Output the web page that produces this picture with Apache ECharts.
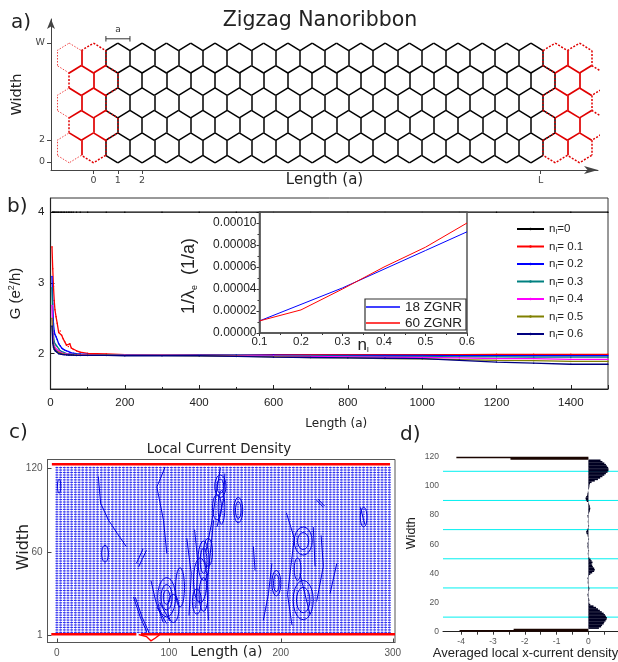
<!DOCTYPE html>
<html><head><meta charset="utf-8">
<style>html,body{margin:0;padding:0;background:#fff}#c{width:618px;height:662px}</style>
<script src="https://cdn.jsdelivr.net/npm/echarts@6/dist/echarts.min.js"></script></head>
<body><div id="c"></div>
<script>
// ---------- panel a data ----------
const ribbonRowCenters=[1.29,3.33,5.37,7.41,9.45];
const ribbonRowOffsets=[0,0.5,0,0.5,0];
const ribbonColumnCount=22, ribbonFirstColumn=-1;
const hexHalfWidth=0.5, hexRadius=1.36;
const leftLeadEnd=0.6, rightLeadStart=18.6;
const aTickValues=[0,1,2,18.4], aTickLabels=['0','1','2','L'];
const wTickValues=[0,2,10.82], wTickLabels=['0','2','W'];
const latticeMarkers=[[[0.51,11.2],[1.5,11.2]],[[0.51,10.95],[0.51,11.45]],[[1.5,10.95],[1.5,11.45]]];
// ---------- panel b data ----------
const lengths=[4,6,8,10,12,15,18,22,26,30,34,38,43,48,52,56,61,70,80,100,150,200,300,400,500,600,700,800,900,1000,1100,1200,1300,1400,1500];
const g0=lengths.map(()=>4);
const g1=[3.51,3.2,2.95,2.75,2.62,2.52,2.43,2.3,2.32,2.26,2.21,2.17,2.12,2.1,2.14,2.08,2.06,2.04,2.02,2.005,1.995,1.985,1.98,1.985,1.98,1.985,1.985,1.985,1.985,1.985,1.985,1.99,1.99,1.99,1.99];
const g2=[3.09,2.7,2.42,2.32,2.27,2.24,2.2,2.14,2.11,2.08,2.06,2.05,2.04,2.03,2.02,2.01,2.005,2.0,1.995,1.99,1.985,1.985,1.98,1.98,1.98,1.98,1.975,1.975,1.975,1.975,1.97,1.97,1.97,1.97,1.97];
const g3=[2.93,2.45,2.25,2.17,2.14,2.12,2.1,2.07,2.04,2.03,2.02,2.01,2.0,2.0,1.995,1.99,1.99,1.99,1.985,1.985,1.985,1.98,1.98,1.98,1.975,1.97,1.97,1.965,1.96,1.96,1.955,1.955,1.95,1.95,1.95];
const g4=[2.68,2.3,2.15,2.11,2.09,2.07,2.05,2.04,2.02,2.01,2.0,2.0,1.995,1.99,1.99,1.99,1.985,1.985,1.985,1.985,1.98,1.98,1.98,1.975,1.97,1.965,1.96,1.955,1.95,1.945,1.94,1.93,1.93,1.92,1.92];
const g5=[2.5,2.2,2.12,2.08,2.06,2.04,2.03,2.02,2.0,2.0,1.995,1.99,1.99,1.985,1.985,1.985,1.98,1.98,1.98,1.98,1.98,1.975,1.975,1.97,1.965,1.955,1.945,1.94,1.93,1.925,1.915,1.905,1.9,1.89,1.89];
const g6=[2.39,2.15,2.09,2.06,2.04,2.03,2.02,2.0,1.995,1.99,1.985,1.985,1.98,1.98,1.98,1.98,1.98,1.975,1.975,1.975,1.975,1.97,1.97,1.97,1.96,1.95,1.945,1.94,1.935,1.93,1.905,1.88,1.865,1.85,1.85];
const seriesNames=['nI=0','nI= 0.1','nI= 0.2','nI= 0.3','nI= 0.4','nI= 0.5','nI= 0.6'];
const seriesColors=['#000000','#ff0000','#0000ff','#008080','#ff00ff','#808000','#000080'];
// ---------- inset data ----------
const impurity=[0.1,0.2,0.3,0.4,0.5,0.6];
const zgnr18=[0.000011,0.000026,0.000041,0.000058,0.000075,0.000092];
const zgnr60=[0.000011,0.000021,0.00004,0.00006,0.000078,0.0001];
// ---------- panel c data ----------
const arrowColumns=[],arrowRows=[];
for(let x=0;x<=300;x+=3.3)arrowColumns.push(x);
for(let y=3;y<=120.6;y+=1.75)arrowRows.push(y);
const edgeTop=[[-4.5,122.6],[297.6,122.6]];
const edgeBottom=[[-5,1.7],[71,1.7]];
const edgeBottomRight=[[75,1.7],[302,1.7]];
const edgeScatter=[[73,1.5],[80,0],[84,-3],[88,-1],[92,1.5]];
const vortexX =[146,146,143,162,162,131,131,131,196,196,220,220,220,220,274,98,98,98,43,2,128,135,125,110,104,147,215];
const vortexY =[107,107,92,90,90,54,54,30,38,38,68,68,26,26,85,28,28,28,59,107,40,60,25,35,20,92,48];
const vortexRx=[5,3,4,4,2.5,5,3,4,4,2.5,8,5,9,6,3,8,5,3,3,1.5,6,4,4,4,5,3,3];
const vortexRy=[8,5,9,9,6,14,9,12,9,6,10,6,14,9,7,14,9,5,6,5,16,10,9,14,10,12,8];
const streaks=[
 [[37,114],[39,95],[46,83],[54,73.3],[62,64]],
 [[77,62.6],[71,52]],[[80,61.4],[73,49.6]],
 [[68.4,28.2],[74.4,14],[80.3,3.3]],[[70,28],[76,14],[82,3.3]],
 [[89.3,21],[98,9.3]],[[92,24],[101,11]],
 [[96.7,120.7],[89.3,106.5],[95.2,82.8],[98.2,59.1]],
 [[232,97],[238,92]],[[233,98],[239,93]],
 [[192,52],[189,30.6],[184.4,11.6]],
 [[140,82.8],[137,59],[134,35.4],[135.3,11.7]],
 [[229,78],[230.6,50]],[[217,45],[226,16]],[[271,92],[275,80]],
 [[250,52],[244,30.6]],[[175.5,64],[177,47]],
 [[84,40],[88,26],[95,10]],[[116,70],[120,45],[118,15]],[[123,76],[126,52],[124,20]],
 [[146,120],[142,100],[138,80],[133,60]],[[150,116],[149,98],[143,78]],
 [[205,88],[212,70],[209,50],[206,30],[210,8]],[[236,72],[238,50],[232,25]]
];
const cXTicks=[0,100,200,300], cYTicks=[1,60,120];
// ---------- panel d data ----------
const widthRows=[];for(let i=1;i<=120;i++)widthRows.push(String(i));
const avgCurrent=[-4.05,-2.35,0.33,0.4,0.43,0.48,0.5,0.54,0.57,0.58,0.55,0.52,0.48,0.42,0.36,0.3,0.24,0.16,0.06,0.03,
0.01,0.03,0.02,-0.01,-0.02,-0.03,-0.01,0.01,0.02,0.03,0.02,0.01,-0.01,-0.02,-0.02,-0.01,-0.03,-0.01,0.02,0.06,
0.12,0.18,0.2,0.18,0.14,0.12,0.1,0.13,0.1,0.07,0.03,0.01,-0.01,-0.02,0.01,0.02,-0.01,-0.02,-0.03,-0.02,
-0.03,-0.01,0.01,0.02,-0.01,-0.02,-0.03,-0.06,-0.07,-0.05,-0.02,0.01,0.02,0.01,-0.01,-0.02,-0.01,0.01,-0.02,-0.03,
-0.01,0.02,0.04,0.05,0.06,0.05,0.04,0.02,-0.01,-0.05,-0.08,-0.09,-0.07,-0.04,-0.03,-0.02,0.0,0.01,0.02,0.03,
0.03,0.05,0.1,0.2,0.3,0.37,0.44,0.5,0.55,0.6,0.63,0.63,0.62,0.58,0.55,0.5,0.44,0.38,-2.45,-4.15];
const cyanWidths=[10,30,50,70,90,110];
const dTicks=[-4,-3.5,-3,-2.5,-2,-1.5,-1,-0.5,0,0.5], dLabels=[-4,-3,-2,-1,0];

// ---------- derived ----------
function hexVertices(cx,cy){const w=hexHalfWidth,r=hexRadius;
 return [[cx,cy+r],[cx+w,cy+r/2],[cx+w,cy-r/2],[cx,cy-r],[cx-w,cy-r/2],[cx-w,cy+r/2]];}
const edgeMap={};
ribbonRowCenters.forEach((cy,row)=>{for(let i=0;i<ribbonColumnCount;i++){
 const k=ribbonFirstColumn+i+ribbonRowOffsets[row];
 const red=k<leftLeadEnd||k>rightLeadStart, faint=k===-1;
 const v=hexVertices(k,cy);
 for(let e=0;e<6;e++){const a=v[e],b=v[(e+1)%6];
  const id=[a,b].map(p=>p[0].toFixed(2)+','+p[1].toFixed(2)).sort().join('|');
  const o=edgeMap[id]||(edgeMap[id]={coords:[a,b],red:0,black:0,faint:0});
  if(red)o.red++;else o.black++; if(faint)o.faint++;}
}});
const allEdges=Object.values(edgeMap);
const edgeSeries=(list,color,width,type)=>({type:'lines',coordinateSystem:'cartesian2d',xAxisIndex:0,yAxisIndex:0,
 silent:true,z:3,polyline:false,lineStyle:{color,width,type,opacity:1,cap:'butt'},
 data:list.map(e=>({coords:e.coords}))});
const arrows=[];arrowRows.forEach(y=>arrowColumns.forEach(x=>arrows.push([x,y])));
const loops=vortexX.map((cx,i)=>{const pts=[];for(let t=0;t<=20;t++){const a=t/20*2*Math.PI;
 pts.push([cx+vortexRx[i]*Math.cos(a),vortexY[i]+vortexRy[i]*Math.sin(a)]);}return pts;});
const cyanData=[];cyanWidths.forEach(w=>{cyanData.push([-4.57,w],[0.93,w],null);});

const sans='Liberation Sans', dj='DejaVu Sans';
const gLabel=(t,l,tp,s)=>({text:t,left:l,top:tp,textStyle:{fontFamily:dj,fontSize:s||20,fontWeight:'normal',color:'#222'},padding:0});
const niRich={n:{fontFamily:sans,fontSize:11.5,color:'#222'},s:{fontFamily:sans,fontSize:7,color:'#222',padding:[7,0,0,0]}};
const noBounds={outerBoundsMode:'none'};

const option={animation:false,backgroundColor:'#fff',
 title:[
  gLabel('a)',11,13),gLabel('b)',7,197),gLabel('c)',9,423),gLabel('d)',400,425),
  {text:'Zigzag Nanoribbon',left:320,top:10,textAlign:'center',padding:0,textStyle:{fontFamily:dj,fontSize:20.5,fontWeight:'normal',color:'#222'}},
  {text:'Local Current Density',left:219,top:443,textAlign:'center',padding:0,textStyle:{fontFamily:dj,fontSize:13.4,fontWeight:'normal',color:'#222'}},
  {text:'a',left:118,top:25,textAlign:'center',padding:0,textStyle:{fontFamily:dj,fontSize:9,fontWeight:'normal',color:'#333'}}
 ],
 grid:[
  {left:51,top:19,width:547,height:151,...noBounds},
  {left:50.5,top:198,width:557.5,height:191,show:true,borderColor:'#333',borderWidth:1,...noBounds},
  {left:259.5,top:212,width:207.5,height:121,show:true,borderColor:'#555',borderWidth:1.5,backgroundColor:'transparent',z:5,...noBounds},
  {left:47.5,top:459.5,width:347.5,height:183,show:true,borderColor:'#555',borderWidth:1,...noBounds},
  {left:443,top:456.7,width:175,height:175,...noBounds}
 ],
 xAxis:[
  {gridIndex:0,type:'value',min:-1.749,max:20.76,splitLine:{show:false},
   axisLine:{onZero:false,lineStyle:{color:'#444',width:1},symbol:['none','arrow'],symbolSize:[6,14]},
   axisTick:{customValues:aTickValues,length:4,lineStyle:{color:'#444'}},
   axisLabel:{customValues:aTickValues,formatter:v=>aTickLabels[aTickValues.indexOf(v)],fontFamily:dj,fontSize:9.5,color:'#444',margin:6},
   name:'Length (a)',nameLocation:'middle',nameGap:3,nameMoveOverlap:false,nameTextStyle:{fontFamily:dj,fontSize:15,color:'#222'}},
  {gridIndex:1,type:'value',min:0,max:1500,interval:200,splitLine:{show:false},
   axisLine:{onZero:false,lineStyle:{color:'#222',width:1.2}},
   axisTick:{inside:true,length:4,lineStyle:{color:'#222'}},minorTick:{show:true,splitNumber:2,length:2,lineStyle:{color:'#222'}},
   axisLabel:{fontFamily:sans,fontSize:11.5,color:'#222',margin:8,showMaxLabel:false,formatter:v=>String(v)},
   name:'Length (a)',nameLocation:'middle',nameGap:29,nameMoveOverlap:false,nameTextStyle:{fontFamily:dj,fontSize:12,color:'#222',padding:[0,0,0,14]}},
  {gridIndex:2,type:'value',min:0.1,max:0.6,interval:0.1,splitLine:{show:false},
   axisLine:{lineStyle:{color:'#444',width:1.5}},axisTick:{length:3,lineStyle:{color:'#333'}},
   minorTick:{show:true,splitNumber:2,length:2,lineStyle:{color:'#333'}},
   axisLabel:{fontFamily:sans,fontSize:11.5,color:'#222',margin:3,formatter:v=>v.toFixed(1)},
   name:'{a|n}{b|I}',nameLocation:'middle',nameGap:3,nameMoveOverlap:false,
   nameTextStyle:{rich:{a:{fontFamily:sans,fontSize:17,color:'#222'},b:{fontFamily:sans,fontSize:8,color:'#222',padding:[10,0,0,0]}}}},
  {gridIndex:3,type:'value',min:-8.4,max:302,splitLine:{show:false},
   axisLine:{onZero:false,lineStyle:{color:'#555'}},
   axisTick:{customValues:cXTicks,length:4,inside:true,lineStyle:{color:'#444'}},
   axisLabel:{customValues:cXTicks,fontFamily:sans,fontSize:10,color:'#555',margin:6},
   name:'Length (a)',nameLocation:'middle',nameGap:3,nameMoveOverlap:false,nameTextStyle:{fontFamily:dj,fontSize:14,color:'#222',padding:[0,0,0,10]}},
  {gridIndex:4,type:'value',min:-4.57,max:0.93,splitLine:{show:false},
   axisLine:{onZero:false,lineStyle:{color:'#222'}},
   axisTick:{customValues:dTicks,length:3,lineStyle:{color:'#333'}},
   axisLabel:{customValues:dLabels,fontFamily:sans,fontSize:8.5,color:'#555',margin:5},
   name:'Averaged local x-current density',nameLocation:'middle',nameGap:15,nameMoveOverlap:false,
   nameTextStyle:{fontFamily:sans,fontSize:13,color:'#222',padding:[0,10,0,0]}}
 ],
 yAxis:[
  {gridIndex:0,type:'value',min:-0.727,max:13,splitLine:{show:false},
   axisLine:{onZero:false,lineStyle:{color:'#444',width:1},symbol:['none','arrow'],symbolSize:[6,10]},
   axisTick:{customValues:wTickValues,length:4,lineStyle:{color:'#444'}},
   axisLabel:{customValues:wTickValues,formatter:v=>wTickLabels[wTickValues.indexOf(v)],fontFamily:dj,fontSize:9.5,color:'#444',margin:6},
   name:'Width',nameLocation:'middle',nameGap:26,nameMoveOverlap:false,nameTextStyle:{fontFamily:dj,fontSize:14.5,color:'#222'}},
  {gridIndex:1,type:'value',min:1.5,max:4.2,splitLine:{show:false},
   axisLine:{onZero:false,lineStyle:{color:'#222',width:1.2}},
   axisTick:{customValues:[2,3,4],inside:true,length:4,lineStyle:{color:'#222'}},
   axisLabel:{customValues:[2,3,4],fontFamily:sans,fontSize:11.5,color:'#222',margin:6},
   name:'G (e{sup|2}/h)',nameLocation:'middle',nameGap:27,nameMoveOverlap:false,
   nameTextStyle:{fontFamily:sans,fontSize:15,color:'#222',rich:{sup:{fontFamily:sans,fontSize:9,color:'#222',padding:[0,0,7,0]}}}},
  {gridIndex:2,type:'value',min:0,max:0.00011,interval:0.00002,splitLine:{show:false},
   axisLine:{lineStyle:{color:'#444',width:1.5}},axisTick:{length:3,lineStyle:{color:'#333'}},
   minorTick:{show:true,splitNumber:2,length:2,lineStyle:{color:'#333'}},
   axisLabel:{fontFamily:sans,fontSize:12,color:'#222',margin:3,showMaxLabel:false,formatter:v=>v.toFixed(5)},
   name:'{a|1/\u03bb}{b|e}{a|  (1/a)}',nameLocation:'middle',nameGap:60,nameMoveOverlap:false,
   nameTextStyle:{padding:[0,7,0,0],rich:{a:{fontFamily:sans,fontSize:18,color:'#222'},b:{fontFamily:sans,fontSize:9,color:'#222',padding:[11,0,0,0]}}}},
  {gridIndex:3,type:'value',min:-4.2,max:126,splitLine:{show:false},
   axisLine:{onZero:false,lineStyle:{color:'#555'}},
   axisTick:{customValues:cYTicks,length:4,inside:true,lineStyle:{color:'#444'}},
   axisLabel:{customValues:cYTicks,fontFamily:sans,fontSize:10,color:'#555',margin:5},
   name:'Width',nameLocation:'middle',nameGap:16,nameMoveOverlap:false,nameTextStyle:{fontFamily:dj,fontSize:16,color:'#222',padding:[0,0,0,8]}},
  {gridIndex:4,type:'value',min:0,max:120,interval:20,splitLine:{show:false},
   axisLine:{show:false},axisTick:{show:false},
   axisLabel:{fontFamily:sans,fontSize:8.5,color:'#555',margin:4},
   name:'Width',nameLocation:'middle',nameGap:25,nameMoveOverlap:false,nameTextStyle:{fontFamily:sans,fontSize:12.5,color:'#222',padding:[0,0,0,22]}},
  {gridIndex:4,type:'category',data:widthRows,show:false}
 ],
 legend:[
  {left:516,top:223,orient:'vertical',itemWidth:27,itemHeight:3,itemGap:4.5,padding:0,
   data:seriesNames,formatter:n=>'{n|n}{s|I}{n|'+n.slice(2)+'}',textStyle:{rich:niRich}},
  {left:365,top:299,orient:'vertical',icon:'rect',itemWidth:34,itemHeight:1.5,itemGap:2,padding:[1,4,0,1],
   borderColor:'#333',borderWidth:1.2,data:['18 ZGNR','60 ZGNR'],
   textStyle:{fontFamily:sans,fontSize:13.5,color:'#222'},z:8}
 ],
 series:[
  edgeSeries(allEdges.filter(e=>e.black>0),'#000',1.5,'solid'),
  edgeSeries(allEdges.filter(e=>e.red===2),'#e00000',1.7,'solid'),
  edgeSeries(allEdges.filter(e=>e.red===1&&e.black===0&&e.faint===0),'#e00000',1.5,[2,1.5]),
  edgeSeries(allEdges.filter(e=>e.red===1&&e.black===0&&e.faint===1),'#ee4444',1,[1.5,1.5]),
  edgeSeries(allEdges.filter(e=>e.red===1&&e.black===1),'#e00000',1.6,[1.5,2]),
  {type:'lines',coordinateSystem:'cartesian2d',xAxisIndex:0,yAxisIndex:0,polyline:true,silent:true,
   lineStyle:{color:'#333',width:1,opacity:1},data:latticeMarkers.map(c=>({coords:c}))},
  ...seriesNames.map((n,i)=>({name:n,type:'line',xAxisIndex:1,yAxisIndex:1,z:2+i,
   data:lengths.map((x,j)=>[x,[g0,g1,g2,g3,g4,g5,g6][i][j]]),
   symbol:'circle',symbolSize:1.5,lineStyle:{color:seriesColors[i],width:1.3},itemStyle:{color:seriesColors[i]}})),
  {name:'18 ZGNR',type:'line',xAxisIndex:2,yAxisIndex:2,z:9,symbol:'none',data:impurity.map((x,i)=>[x,zgnr18[i]]),lineStyle:{color:'#0000ff',width:1},itemStyle:{color:'#0000ff'}},
  {name:'60 ZGNR',type:'line',xAxisIndex:2,yAxisIndex:2,z:9,symbol:'none',data:impurity.map((x,i)=>[x,zgnr60[i]]),lineStyle:{color:'#ff0000',width:1},itemStyle:{color:'#ff0000'}},
  {type:'scatter',xAxisIndex:3,yAxisIndex:3,silent:true,symbol:'rect',symbolSize:[2.8,1.15],itemStyle:{color:'#0000ee'},data:arrows},
  {type:'scatter',xAxisIndex:3,yAxisIndex:3,silent:true,symbol:'rect',symbolSize:[0.6,2.4],itemStyle:{color:'#3030f0',opacity:0.7},data:arrows},
  {type:'lines',coordinateSystem:'cartesian2d',xAxisIndex:3,yAxisIndex:3,polyline:true,silent:true,z:4,
   lineStyle:{color:'#0000dd',width:1,opacity:1},data:loops.concat(streaks).map(c=>({coords:c}))},
  {type:'lines',coordinateSystem:'cartesian2d',xAxisIndex:3,yAxisIndex:3,polyline:true,silent:true,z:5,
   lineStyle:{color:'#ff0000',width:2.6,opacity:1},data:[edgeTop,edgeBottom,edgeBottomRight].map(c=>({coords:c}))},
  {type:'lines',coordinateSystem:'cartesian2d',xAxisIndex:3,yAxisIndex:3,polyline:true,silent:true,z:5,
   lineStyle:{color:'#ff0000',width:1.4,opacity:1},data:[{coords:edgeScatter}]},
  {type:'bar',xAxisIndex:4,yAxisIndex:5,barWidth:1.7,silent:true,z:3,
   data:avgCurrent.map(v=>({value:v,itemStyle:{color:v<-1?'#1a0500':'#000022'}}))},
  {type:'line',xAxisIndex:4,yAxisIndex:4,silent:true,symbol:'none',connectNulls:false,z:2,
   lineStyle:{color:'#00f0f0',width:1},data:cyanData}
 ]
};
echarts.init(document.getElementById('c')).setOption(option);
</script></body></html>
